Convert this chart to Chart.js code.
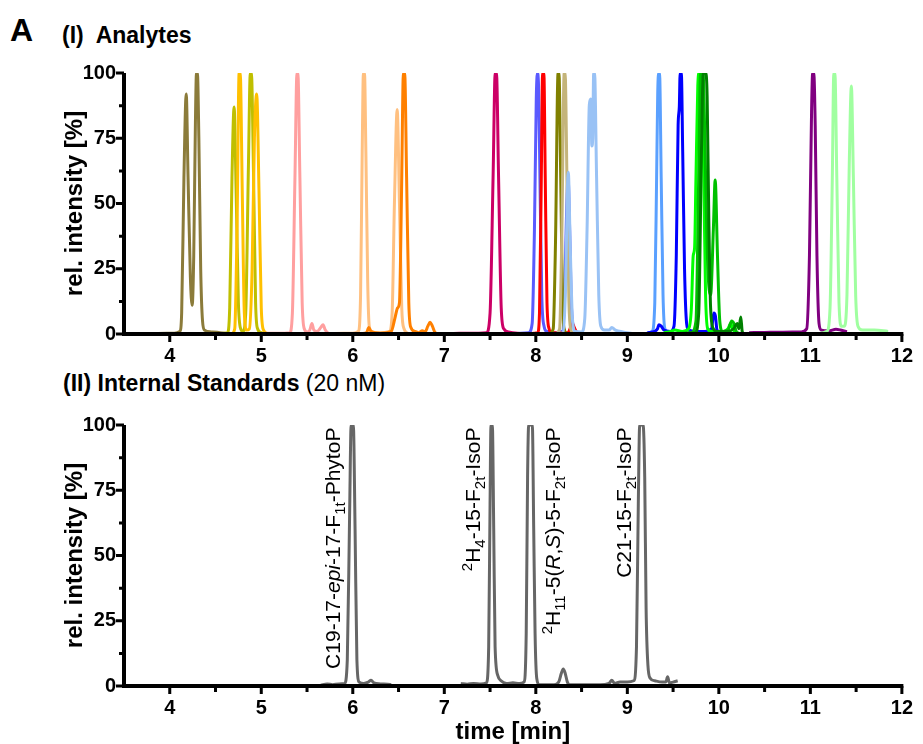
<!DOCTYPE html>
<html>
<head>
<meta charset="utf-8">
<script src="https://cdn.jsdelivr.net/npm/chart.js@4.4.1/dist/chart.umd.min.js"></script>
<style>
  html, body { margin: 0; padding: 0; background: #fff; }
  body { width: 923px; height: 744px; position: relative; overflow: hidden; font-family: "Liberation Sans", Arial, sans-serif; }
  .panel { position: absolute; left: 0; }
  #panel-top { top: 0; }
  #panel-bottom { top: 370px; }
  .lbl { position: absolute; white-space: pre; line-height: 1; font-weight: bold; color: #000; }
</style>
</head>
<body>
<div class="lbl" style="left:10px;top:14px;font-size:32px">A</div>
<div class="lbl" style="left:62px;top:24px;font-size:23px">(I)  Analytes</div>
<div class="lbl" style="left:63px;top:372px;font-size:23px">(II) Internal Standards <span style="font-weight:normal">(20 nM)</span></div>
<div class="panel" id="panel-top"><canvas id="analytes" width="923" height="372"></canvas></div>
<div class="panel" id="panel-bottom"><canvas id="standards" width="923" height="374"></canvas></div>

<script>
// tick labels
const xTicks = [4, 5, 6, 7, 8, 9, 10, 11, 12];
const yTicks = [0, 25, 50, 75, 100];

// (I) analyte traces, [time (min), rel. intensity (%)]
const oliveBrown = [[3.87,0.2],[4.05,0.3],[4.11,1],[4.13,8],[4.155,60],[4.18,92],[4.2,60],[4.225,22],[4.245,11],[4.262,30],[4.28,80],[4.292,100],[4.302,100],[4.318,75],[4.338,25],[4.358,5],[4.38,1.5],[4.45,0.8],[4.55,0.5],[4.62,0.2]];
const yellowGreen = [[4.56,0.2],[4.63,0.5],[4.655,10],[4.68,60],[4.703,87],[4.725,55],[4.75,12],[4.775,2],[4.8,1],[4.83,8],[4.86,65],[4.88,100],[4.892,100],[4.915,62],[4.938,12],[4.96,2],[5.0,0.5],[5.05,0.2]];
const amber = [[4.68,0.2],[4.71,2],[4.735,40],[4.758,100],[4.77,100],[4.792,55],[4.815,8],[4.84,1.5],[4.87,2],[4.9,25],[4.925,75],[4.95,92],[4.975,55],[5.0,10],[5.025,1.5],[5.06,0.3]];
const pink = [[5.0,0.2],[5.2,0.3],[5.31,0.5],[5.34,8],[5.368,60],[5.39,100],[5.4,100],[5.422,60],[5.447,12],[5.47,2],[5.5,0.8],[5.53,1.5],[5.553,4],[5.575,1.5],[5.61,1],[5.65,2.5],[5.675,3.5],[5.7,1.5],[5.73,0.3]];
const lightOrange = [[5.8,0.2],[6.0,0.3],[6.06,1],[6.085,15],[6.103,70],[6.116,100],[6.128,100],[6.143,70],[6.163,20],[6.18,3],[6.21,0.8],[6.3,0.5],[6.4,1],[6.43,8],[6.455,50],[6.485,86],[6.51,50],[6.535,10],[6.56,2],[6.6,0.3]];
const orange = [[6.1,0.2],[6.15,0.5],[6.175,2.5],[6.2,1],[6.3,0.3],[6.42,1],[6.46,6],[6.49,10],[6.51,12],[6.533,55],[6.553,100],[6.567,100],[6.588,60],[6.612,12],[6.635,2.5],[6.68,1],[6.72,0.5],[6.76,1.2],[6.79,0.8],[6.82,3],[6.845,4.5],[6.87,3],[6.9,0.5],[6.93,0.2]];
const crimson = [[7.1,0.2],[7.3,0.3],[7.46,0.5],[7.5,8],[7.533,60],[7.556,100],[7.57,100],[7.593,60],[7.622,10],[7.65,2],[7.7,0.8],[7.8,0.3],[7.9,0.2]];
const mediumBlue = [[7.8,0.2],[7.92,0.5],[7.96,4],[7.985,40],[8.005,90],[8.017,100],[8.03,95],[8.045,60],[8.065,15],[8.09,3],[8.12,1],[8.2,0.5],[8.29,1],[8.315,15],[8.335,45],[8.352,60],[8.37,40],[8.39,10],[8.42,2],[8.46,0.5],[8.52,0.2]];
const red = [[7.95,0.2],[8.02,0.5],[8.04,8],[8.06,60],[8.074,100],[8.088,100],[8.103,60],[8.122,12],[8.145,2],[8.17,0.5],[8.35,0.5],[8.38,2.5],[8.4,4],[8.42,2.5],[8.45,0.5],[8.5,0.2]];
const olive = [[8.15,0.2],[8.19,2],[8.215,35],[8.243,100],[8.253,100],[8.272,60],[8.292,12],[8.31,2],[8.34,0.2]];
const khaki = [[8.22,0.2],[8.26,2],[8.285,40],[8.31,100],[8.32,100],[8.342,55],[8.362,12],[8.38,2],[8.41,0.2]];
const lightBlue = [[8.2,0.2],[8.3,0.5],[8.325,18],[8.345,55],[8.355,62],[8.375,35],[8.4,6],[8.43,1],[8.5,0.8],[8.535,6],[8.56,40],[8.585,88],[8.6,90],[8.612,72],[8.622,75],[8.632,100],[8.642,100],[8.664,60],[8.688,15],[8.71,3],[8.75,1.5],[8.8,1.5],[8.83,2.5],[8.87,1.5],[8.95,0.8],[9.05,0.2]];
const cornflower = [[9.2,0.2],[9.27,1],[9.3,12],[9.32,60],[9.332,92],[9.342,100],[9.352,100],[9.37,60],[9.39,15],[9.41,2],[9.45,0.5],[9.5,0.2]];
const blue = [[9.22,0.5],[9.3,1],[9.33,2],[9.345,3.5],[9.37,3],[9.4,1.5],[9.47,1],[9.51,3],[9.535,30],[9.555,80],[9.568,87],[9.577,100],[9.59,100],[9.605,70],[9.625,25],[9.648,4],[9.67,1.5],[9.75,1],[9.85,1],[9.92,2],[9.945,8],[9.962,7],[9.98,1.5],[10.0,1]];
const brightGreen = [[9.4,0.5],[9.47,1],[9.52,1.5],[9.6,1],[9.67,2],[9.7,10],[9.72,30],[9.735,33],[9.75,60],[9.77,95],[9.785,100],[9.815,100],[9.835,60],[9.855,15],[9.878,2],[9.92,1],[10.0,0.8],[10.06,1],[10.1,2],[10.13,4],[10.15,2],[10.2,0.3]];
const green = [[9.5,0.2],[9.7,0.5],[9.75,5],[9.78,60],[9.8,100],[9.82,100],[9.835,95],[9.858,55],[9.88,25],[9.91,15],[9.94,40],[9.96,59],[9.985,30],[10.01,5],[10.04,1],[10.1,1.5],[10.14,5],[10.165,4],[10.19,1],[10.22,0.3]];
const darkGreen = [[9.6,0.2],[9.74,0.5],[9.78,8],[9.81,70],[9.83,100],[9.855,100],[9.872,91],[9.89,45],[9.91,10],[9.94,2],[9.98,1],[10.1,1],[10.16,2],[10.2,4],[10.22,2],[10.24,6.5],[10.255,1],[10.27,0.2]];
const purple = [[10.33,0.5],[10.5,0.6],[10.7,0.7],[10.9,0.8],[10.96,2],[10.99,30],[11.013,85],[11.025,100],[11.037,100],[11.053,80],[11.072,30],[11.095,4],[11.12,1.5],[11.2,1.2],[11.28,1.8],[11.33,1.5],[11.4,0.8]];
const paleGreen = [[11.1,0.2],[11.18,1],[11.215,10],[11.24,60],[11.256,100],[11.268,100],[11.289,60],[11.313,12],[11.34,3],[11.37,3],[11.4,15],[11.425,65],[11.448,95],[11.47,60],[11.495,15],[11.52,3],[11.57,1.5],[11.7,1.5],[11.85,1]];

// (II) internal standards trace (null = no data recorded)
const standards = [[5.65,0.3],[5.72,0.8],[5.78,0.5],[5.85,0.8],[5.91,1],[5.94,10],[5.965,65],[5.982,100],[6.006,100],[6.025,60],[6.045,10],[6.07,1.5],[6.12,1],[6.17,1.5],[6.2,2.2],[6.23,1.2],[6.3,0.8],[6.38,0.7],[6.42,0.5],[6.8,null],[7.18,1],[7.25,0.7],[7.32,1],[7.4,0.8],[7.46,1.2],[7.485,15],[7.5,70],[7.51,100],[7.525,100],[7.54,60],[7.555,15],[7.585,4],[7.62,2],[7.68,1],[7.75,1.2],[7.82,1],[7.87,1.5],[7.895,20],[7.91,80],[7.922,100],[7.962,100],[7.977,60],[7.992,20],[8.01,3],[8.04,0.5],[8.2,0.5],[8.25,1.5],[8.28,5],[8.3,6.5],[8.32,5],[8.345,1.5],[8.37,0.5],[8.7,0.5],[8.8,1],[8.83,2.2],[8.86,1],[8.92,1.5],[9.0,1.5],[9.07,2],[9.1,15],[9.12,70],[9.135,100],[9.172,100],[9.19,80],[9.205,30],[9.225,8],[9.25,3],[9.3,2],[9.38,1.5],[9.42,1.5],[9.44,3.5],[9.46,1.2],[9.5,1.5],[9.55,2]];

// peak labels for the standards (text runs: it = italic, sub/sup = small)
const standardLabels = [
    { t: 5.86, parts: [{ s: 'C19-17-' }, { s: 'epi', it: true }, { s: '-17-F' }, { s: '1t', sub: true }, { s: '-PhytoP' }] },
    { t: 7.39, parts: [{ s: '2', sup: true }, { s: 'H' }, { s: '4', sub: true }, { s: '-15-F' }, { s: '2t', sub: true }, { s: '-IsoP' }] },
    { t: 8.26, parts: [{ s: '2', sup: true }, { s: 'H' }, { s: '11', sub: true }, { s: '-5(' }, { s: 'R', it: true }, { s: ',' }, { s: 'S', it: true }, { s: ')-5-F' }, { s: '2t', sub: true }, { s: '-IsoP' }] },
    { t: 9.04, parts: [{ s: 'C21-15-F' }, { s: '2t', sub: true }, { s: '-IsoP' }] }
];

const FONT = '"Liberation Sans", Arial, sans-serif';

const toXY = pts => pts.map(([x, y]) => ({ x, y }));

function trace(label, pts, color) {
    return {
        label,
        data: toXY(pts),
        borderColor: color,
        borderWidth: 3,
        pointRadius: 0,
        fill: false,
        cubicInterpolationMode: 'monotone',
        spanGaps: false,
        clip: { left: 0, right: 0, top: 0, bottom: 4 }
    };
}

// thick black axes with long major / short minor ticks
const axesPlugin = {
    id: 'prismAxes',
    afterDraw(chart) {
        const { ctx, chartArea: a, scales: { x, y } } = chart;
        ctx.save();
        ctx.strokeStyle = '#000';
        ctx.lineWidth = 4;
        ctx.beginPath();
        ctx.moveTo(a.left, a.top);
        ctx.lineTo(a.left, a.bottom + 2);
        ctx.moveTo(a.left - 2, a.bottom);
        ctx.lineTo(a.right + 1.5, a.bottom);
        ctx.stroke();

        ctx.lineWidth = 3;
        ctx.beginPath();
        for (let v = 4; v <= 12; v += 0.5) {
            const px = x.getPixelForValue(v);
            const len = Number.isInteger(v) ? 8 : 6;
            ctx.moveTo(px, a.bottom);
            ctx.lineTo(px, a.bottom + len);
        }
        for (let v = 0; v <= 100; v += 12.5) {
            const py = y.getPixelForValue(v);
            const len = v % 25 === 0 ? 8 : 5;
            ctx.moveTo(a.left, py);
            ctx.lineTo(a.left - len, py);
        }
        ctx.stroke();
        ctx.restore();
    }
};

// rotated peak names with sub/superscripts
const peakLabelPlugin = {
    id: 'peakLabels',
    afterDatasetsDraw(chart, args, opts) {
        if (!opts.labels) return;
        const { ctx, scales: { x, y } } = chart;
        ctx.save();
        ctx.fillStyle = '#000';
        ctx.textBaseline = 'alphabetic';
        ctx.textAlign = 'left';
        for (const lab of opts.labels) {
            let total = 0;
            const runs = lab.parts.map(p => {
                const size = (p.sub || p.sup) ? 15 : 21;
                const font = (p.it ? 'italic ' : '') + size + 'px ' + FONT;
                ctx.font = font;
                const w = ctx.measureText(p.s).width;
                total += w;
                return { p, font, w };
            });
            const px = x.getPixelForValue(lab.t);
            const py = y.getPixelForValue(opts.top);
            ctx.save();
            ctx.translate(px, py + total);
            ctx.rotate(-Math.PI / 2);
            let cx = 0;
            for (const r of runs) {
                ctx.font = r.font;
                const dy = r.p.sub ? 5 : r.p.sup ? -8 : 0;
                ctx.fillText(r.p.s, cx, dy);
                cx += r.w;
            }
            ctx.restore();
        }
        ctx.restore();
    }
};

function makeOptions(cfg) {
    return {
        responsive: false,
        animation: false,
        layout: { padding: { left: 63, right: 15, top: cfg.top, bottom: 0 } },
        plugins: {
            legend: { display: false },
            tooltip: { enabled: false },
            peakLabels: cfg.labels ? { labels: cfg.labels, top: 99 } : {}
        },
        scales: {
            x: {
                type: 'linear',
                min: 3.5,
                max: 12,
                afterBuildTicks: s => { s.ticks = xTicks.map(v => ({ value: v })); },
                afterFit: s => { s.height = cfg.xHeight; },
                grid: { display: false, drawTicks: false },
                border: { display: false },
                ticks: {
                    color: '#000',
                    padding: 10,
                    maxRotation: 0,
                    autoSkip: false,
                    font: { family: FONT, size: 20, weight: 'bold' }
                },
                title: cfg.xTitle ? {
                    display: true,
                    text: cfg.xTitle,
                    color: '#000',
                    padding: 0,
                    font: { family: FONT, size: 24, weight: 'bold', lineHeight: 1 }
                } : { display: false }
            },
            y: {
                min: 0,
                max: 100,
                afterBuildTicks: s => { s.ticks = yTicks.map(v => ({ value: v })); },
                afterFit: s => { s.width = 124 - 63; },
                grid: { display: false, drawTicks: false },
                border: { display: false },
                ticks: {
                    color: '#000',
                    padding: 8,
                    font: { family: FONT, size: 20, weight: 'bold' }
                },
                title: {
                    display: true,
                    text: 'rel. intensity [%]',
                    color: '#000',
                    padding: 0,
                    font: { family: FONT, size: 24, weight: 'bold', lineHeight: 1 }
                }
            }
        }
    };
}

const analyteSeries = [
    ['oliveBrown', oliveBrown, '#8B7B3A'],
    ['yellowGreen', yellowGreen, '#BFBF00'],
    ['amber', amber, '#FFC000'],
    ['pink', pink, '#FF9F9F'],
    ['lightOrange', lightOrange, '#FFC080'],
    ['orange', orange, '#FF8000'],
    ['crimson', crimson, '#CC0066'],
    ['mediumBlue', mediumBlue, '#5A5AFF'],
    ['red', red, '#FF0000'],
    ['olive', olive, '#808000'],
    ['khaki', khaki, '#C4B47A'],
    ['lightBlue', lightBlue, '#99C2F5'],
    ['cornflower', cornflower, '#5AA0FF'],
    ['blue', blue, '#0000FF'],
    ['brightGreen', brightGreen, '#00FF00'],
    ['green', green, '#00C000'],
    ['darkGreen', darkGreen, '#008000'],
    ['purple', purple, '#800080'],
    ['paleGreen', paleGreen, '#A0FFA0']
];

// Chart.js paints dataset 0 last, so reverse to keep later traces on top
new Chart(document.getElementById('analytes'), {
    type: 'line',
    data: { datasets: analyteSeries.map(([n, d, c]) => trace(n, d, c)).reverse() },
    options: makeOptions({ top: 73, xHeight: 38 }),
    plugins: [axesPlugin]
});

new Chart(document.getElementById('standards'), {
    type: 'line',
    data: { datasets: [trace('standards', standards, '#666666')] },
    options: makeOptions({ top: 55, xHeight: 58, xTitle: 'time [min]', labels: standardLabels }),
    plugins: [axesPlugin, peakLabelPlugin]
});
</script>
</body>
</html>
